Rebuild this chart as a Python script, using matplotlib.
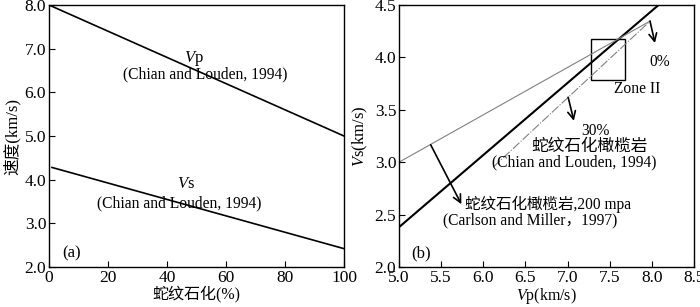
import matplotlib
matplotlib.use('Agg')
import matplotlib.pyplot as plt
from matplotlib.patches import Rectangle

plt.rcParams['font.family'] = ['Liberation Serif', 'Noto Sans CJK SC']
plt.rcParams['mathtext.fontset'] = 'custom'
plt.rcParams['mathtext.rm'] = 'Liberation Serif'
plt.rcParams['mathtext.it'] = 'Liberation Serif:italic'
plt.rcParams['font.size'] = 11.2

# (a) velocity vs serpentinization
serp_vp = [0, 100]
vp_a = [8.0, 5.0]
serp_vs = [1, 100]
vs_a = [4.28, 2.42]

# (b) Vs vs Vp
carlson_vp = [5.0, 8.08]
carlson_vs = [2.38, 4.5]
chian_up_vp = [5.0, 7.98]
chian_up_vs = [3.0, 4.347]
chian_low_vp = [6.12, 7.98]
chian_low_vs = [2.955, 4.347]
zone2 = (7.273, 3.783, 0.403, 0.389)  # x, y, w, h

fig = plt.figure(figsize=(7.0, 3.07), dpi=100)
ax1 = fig.add_axes([0.07, 0.1303, 0.4214, 0.8534])
ax2 = fig.add_axes([0.57, 0.1303, 0.4214, 0.8534])

ax1.plot(serp_vp, vp_a, color='black', lw=1.2)
ax1.plot(serp_vs, vs_a, color='black', lw=1.2)
ax1.set_xlim(0, 100)
ax1.set_ylim(2.0, 8.0)
ax1.set_xticks([0, 20, 40, 60, 80, 100])
ax1.set_yticks([2, 3, 4, 5, 6, 7, 8])
ax1.set_yticklabels(['2.0', '3.0', '4.0', '5.0', '6.0', '7.0', '8.0'])
ax1.set_xlabel('蛇纹石化(%)', labelpad=0, fontsize=11.5, fontweight='light')
ax1.set_ylabel('速度(km/s)', labelpad=3, fontsize=12, fontweight='light')
ax1.text(49, 6.78, r'$\it{V}$p', ha='center', va='center', fontsize=12)
ax1.text(52.8, 6.42, '(Chian and Louden, 1994)', ha='center', va='center')
ax1.text(46.6, 3.91, r'$\it{V}$s', ha='center', va='center', fontsize=12)
ax1.text(44.1, 3.45, '(Chian and Louden, 1994)', ha='center', va='center')
ax1.text(7.6, 2.31, '(a)', ha='center', va='center', fontsize=12)

ax2.plot(carlson_vp, carlson_vs, color='black', lw=1.5)
ax2.plot(chian_up_vp, chian_up_vs, color='gray', lw=0.8)
ax2.plot(chian_low_vp, chian_low_vs, color='gray', lw=0.8, linestyle=(0, (8, 1.5, 1, 1.5)))
ax2.add_patch(Rectangle(zone2[:2], zone2[2], zone2[3], fill=False, edgecolor='black', lw=1.0))
arrow = dict(arrowstyle='->', color='black', lw=1.2, shrinkA=0, shrinkB=0, mutation_scale=14)
ax2.annotate('', xy=(8.037, 4.137), xytext=(7.978, 4.347), arrowprops=arrow)
ax2.annotate('', xy=(7.075, 3.395), xytext=(7.007, 3.62), arrowprops=arrow)
ax2.annotate('', xy=(5.74, 2.599), xytext=(5.376, 3.166), arrowprops=arrow)
ax2.set_xlim(5.0, 8.5)
ax2.set_ylim(2.0, 4.5)
ax2.set_xticks([5.0, 5.5, 6.0, 6.5, 7.0, 7.5, 8.0, 8.5])
ax2.set_xticklabels(['5.0', '5.5', '6.0', '6.5', '7.0', '7.5', '8.0', '8.5'])
ax2.set_yticks([2.0, 2.5, 3.0, 3.5, 4.0, 4.5])
ax2.set_yticklabels(['2.0', '2.5', '3.0', '3.5', '4.0', '4.5'])
ax2.set_xlabel(r'$\it{V}$p(km/s)', labelpad=0, fontsize=11.5)
ax2.set_ylabel(r'$\it{V}$s(km/s)', labelpad=3, fontsize=12)
ax2.text(8.088, 3.959, '0%', ha='center', va='center')
ax2.text(7.827, 3.697, 'Zone II', ha='center', va='center')
ax2.text(7.336, 3.296, '30%', ha='center', va='center')
ax2.text(7.264, 3.147, '蛇纹石化橄榄岩', ha='center', va='center', fontsize=12, fontweight='light')
ax2.text(7.075, 2.997, '(Chian and Louden, 1994)', ha='center', va='center')
ax2.text(6.77, 2.60, '蛇纹石化橄榄岩,200 mpa', ha='center', va='center', fontweight='light')
ax2.text(6.55, 2.446, '(Carlson and Miller，1997)', ha='center', va='center')
ax2.text(5.265, 2.127, '(b)', ha='center', va='center', fontsize=12)

for ax in (ax1, ax2):
    ax.tick_params(direction='in', length=4, width=0.8, top=False, right=False, pad=2, labelsize=12.5)
    for s in ax.spines.values():
        s.set_linewidth(1.0)

fig.savefig('out.png', dpi=100)
